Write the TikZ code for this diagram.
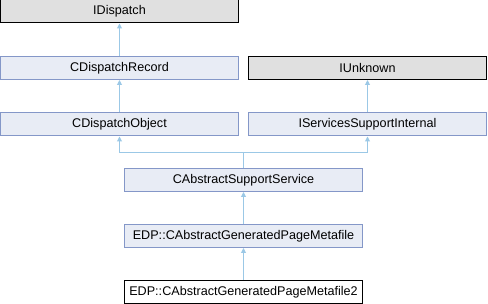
\documentclass[tikz,border=0pt]{standalone}
\usepackage{fontspec}
\setmainfont{Liberation Sans}
\usetikzlibrary{arrows.meta,positioning}

\definecolor{clsfill}{HTML}{E8ECF5}
\definecolor{clsdraw}{HTML}{8497C8}
\definecolor{extfill}{HTML}{E0E0E0}
\definecolor{inhline}{HTML}{9BC8E6}

\begin{document}
\begin{tikzpicture}[x=1pt,y=1pt,>={Triangle[length=5pt,width=5pt]},
  cls/.style={draw=clsdraw,fill=clsfill,line width=1pt,minimum width=238pt,minimum height=23pt,inner sep=0pt,font=\fontsize{12.6pt}{14pt}\selectfont},
  ext/.style={cls,draw=black,fill=extfill},
  leaf/.style={cls,draw=black,fill=white},
  inh/.style={<-,draw=inhline,line width=1pt}]
\useasboundingbox (0,0) rectangle (488,-304);
\node[ext] (idisp) at (119.5,-11.5) {IDispatch};
\node[cls] (rec) at (119.5,-68) {CDispatchRecord};
\node[cls] (obj) at (119.5,-124.5) {CDispatchObject};
\node[ext] (iunk) at (367.5,-68) {IUnknown};
\node[cls] (ssi) at (367.5,-124.5) {IServicesSupportInternal};
\node[cls] (svc) at (243.5,-180) {CAbstractSupportService};
\node[cls] (meta) at (243.5,-236) {EDP::CAbstractGeneratedPageMetafile};
\node[leaf] (meta2) at (243.5,-292) {EDP::CAbstractGeneratedPageMetafile2};
\coordinate (bus) at (243.5,-152.5);
\draw[inh] (idisp) -- (rec);
\draw[inh] (rec) -- (obj);
\draw[inh] (iunk) -- (ssi);
\draw[inh] (obj.south) |- (bus) -- (svc.north);
\draw[inh] (ssi.south) |- (bus);
\draw[inh] (svc) -- (meta);
\draw[inh] (meta) -- (meta2);
\end{tikzpicture}
\end{document}
